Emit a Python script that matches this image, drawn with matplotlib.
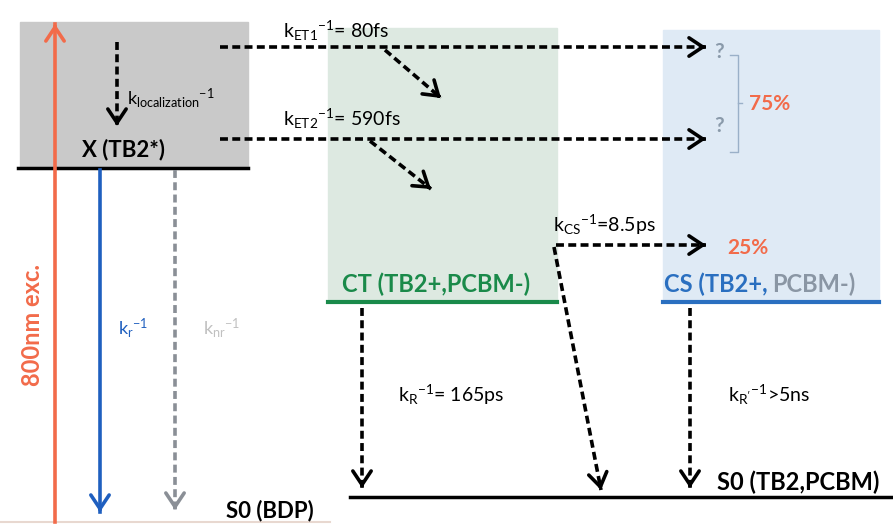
import matplotlib
matplotlib.use("Agg")
import matplotlib.pyplot as plt
from matplotlib.patches import Rectangle

plt.rcParams['font.family'] = ['Lato', 'DejaVu Sans']
plt.rcParams['mathtext.fontset'] = 'custom'
plt.rcParams['mathtext.rm'] = 'Lato'
plt.rcParams['mathtext.it'] = 'Lato'
plt.rcParams['mathtext.bf'] = 'Lato:bold'

# ---- diagram content ----
state_labels = ["X (TB2*)", "CT (TB2+,PCBM-)", "CS (TB2+,", "PCBM-)", "S0 (BDP)", "S0 (TB2,PCBM)"]
rate_labels = [r"k$_\mathregular{ET1}$$^\mathregular{-1}$= 80fs",
               r"k$_\mathregular{ET2}$$^\mathregular{-1}$= 590fs",
               r"k$_\mathregular{CS}$$^\mathregular{-1}$=8.5ps",
               r"k$_\mathregular{R}$$^\mathregular{-1}$= 165ps",
               r"k$_\mathregular{R'}$$^\mathregular{-1}$>5ns",
               r"k$_\mathregular{localization}$$^\mathregular{-1}$",
               r"k$_\mathregular{r}$$^\mathregular{-1}$",
               r"k$_\mathregular{nr}$$^\mathregular{-1}$"]
yield_labels = ["75%", "25%"]
exc_label = "800nm exc."

RED = "#f26b4a"
BLUE = "#1f5fbf"
GREEN = "#1a8a4a"
GREY = "#8a8f96"
LGREY = "#c0c0c0"

fig = plt.figure(figsize=(8.93, 5.24), dpi=100)
ax = fig.add_axes([0, 0, 1, 1])
ax.set_xlim(0, 893)
ax.set_ylim(524, 0)
ax.axis('off')

# boxes
ax.add_patch(Rectangle((20, 22), 228, 146, color="#c9c9c9", zorder=0))
ax.add_patch(Rectangle((328, 28), 229, 274, color="#dde9e1", zorder=0))
ax.add_patch(Rectangle((663, 30), 216, 272, color="#dfeaf5", zorder=0))

# level lines
ax.plot([18, 248], [168, 168], color='black', lw=2.5)
ax.plot([328, 557], [302, 302], color=GREEN, lw=3)
ax.plot([663, 879], [302, 302], color="#2a6fc0", lw=3)
ax.plot([350, 893], [497, 497], color='black', lw=2.5)
ax.plot([0, 330], [522, 522], color="#e8d8d0", lw=1.5)


def arrow(x0, y0, x1, y1, color='black', dashed=True, lw=2.6, ms=22):
    if dashed:
        ax.plot([x0, x1], [y0, y1], color=color, lw=lw, ls=(0, (2.2, 1.2)), solid_capstyle='butt')
    else:
        ax.plot([x0, x1], [y0, y1], color=color, lw=lw)
    dx, dy = x1 - x0, y1 - y0
    L = (dx ** 2 + dy ** 2) ** 0.5
    ax.annotate('', xy=(x1, y1), xytext=(x1 - dx / L * 4, y1 - dy / L * 4),
                arrowprops=dict(arrowstyle='->,head_length=0.45,head_width=0.3', lw=lw, color=color,
                                shrinkA=0, shrinkB=0, mutation_scale=ms))

# excitation
arrow(55, 522, 55, 24, color=RED, dashed=False, lw=2.6)
ax.text(32, 325, exc_label, rotation=90, color=RED, fontsize=17, fontweight='bold', ha='center', va='center')
# radiative / non-radiative
arrow(100, 170, 100, 512, color=BLUE, dashed=False, lw=2.6)
ax.text(118, 328, rate_labels[6], color=BLUE, fontsize=13, ha='left', va='center')
arrow(175, 170, 175, 510, color=GREY, dashed=True, lw=2.6)
ax.text(203, 328, rate_labels[7], color=LGREY, fontsize=13, ha='left', va='center')
# localization
arrow(117, 42, 117, 126)
ax.text(127, 98, rate_labels[5], fontsize=13, ha='left', va='center')
ax.text(123, 150, state_labels[0], fontsize=16, fontweight='bold', ha='center', va='center')

# ET1 / ET2
arrow(220, 47, 706, 47)
ax.text(283, 31, rate_labels[0], fontsize=14, ha='left', va='center')
arrow(385, 50, 441, 98)
arrow(220, 139, 706, 139)
ax.text(283, 119, rate_labels[1], fontsize=14, ha='left', va='center')
arrow(370, 141, 431, 189)

ax.text(719, 52, "?", color="#8a9aaa", fontsize=15, fontweight='bold', ha='center', va='center')
ax.text(719, 126, "?", color="#8a9aaa", fontsize=15, fontweight='bold', ha='center', va='center')
ax.plot([730, 738, 738, 730], [55, 55, 152, 152], color="#9ab0c8", lw=1)
ax.plot([738, 742], [103, 103], color="#9ab0c8", lw=1)
ax.text(770, 104, yield_labels[0], color=RED, fontsize=15, fontweight='bold', ha='center', va='center')

# CT state
ax.text(436, 284, state_labels[1], color=GREEN, fontsize=17, fontweight='bold', ha='center', va='center')
# CS state
t = ax.text(664, 284, state_labels[2], color="#2a6fc0", fontsize=17, fontweight='bold', ha='left', va='center')
ax.annotate(state_labels[3], xy=(1, 0.5), xycoords=t, xytext=(3, 0), textcoords='offset points',
            color="#8a96a4", fontsize=17, fontweight='bold', ha='left', va='center')

# CS transfer
arrow(556, 245, 706, 245)
ax.text(553, 225, rate_labels[2], fontsize=14, ha='left', va='center')
ax.text(748, 248, yield_labels[1], color=RED, fontsize=15, fontweight='bold', ha='center', va='center')
arrow(554, 247, 601, 490)

# recombination
arrow(362, 308, 362, 488)
ax.text(398, 395, rate_labels[3], fontsize=14, ha='left', va='center')
arrow(690, 308, 690, 488)
ax.text(728, 395, rate_labels[4], fontsize=14, ha='left', va='center')

ax.text(270, 511, state_labels[4], fontsize=16, fontweight='bold', ha='center', va='center')
ax.text(798, 482, state_labels[5], fontsize=17, fontweight='bold', ha='center', va='center')

fig.savefig("out.png", dpi=100)
